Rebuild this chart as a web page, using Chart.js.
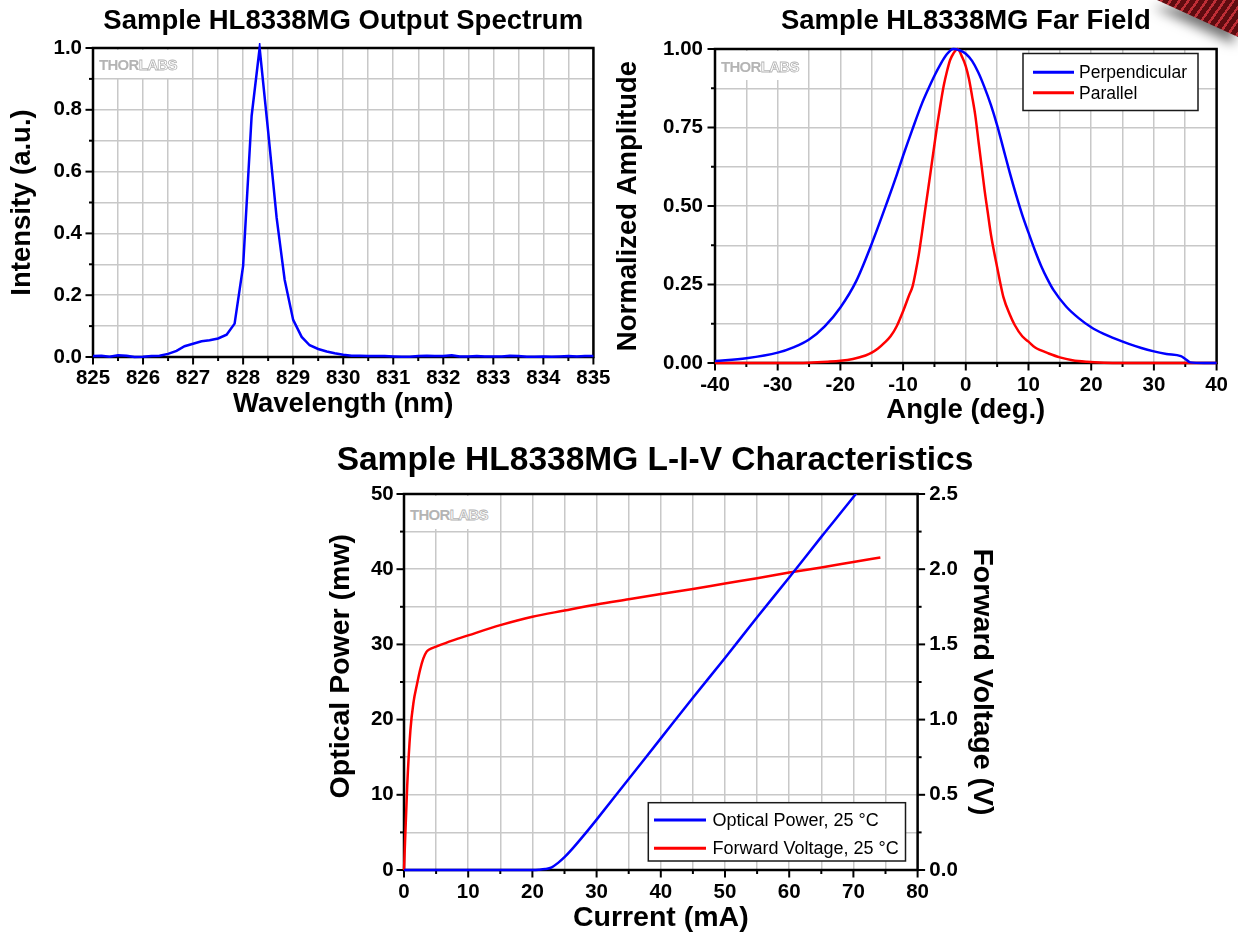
<!DOCTYPE html>
<html><head><meta charset="utf-8">
<script src="https://cdn.jsdelivr.net/npm/chart.js@4.4.1/dist/chart.umd.min.js"></script>
<style>
html,body{margin:0;padding:0;background:#fff;}
#page{position:relative;width:1238px;height:935px;overflow:hidden;background:#fff;}
canvas{position:absolute;}
.wm{position:absolute;background:#fff;font-family:'Liberation Sans',Arial,sans-serif;font-weight:bold;font-size:15px;line-height:15px;letter-spacing:-0.7px;white-space:nowrap;padding:0;}
.wm span{position:relative;}
.wm .t{color:#b4b4b4;}
.wm .l{color:#fff;-webkit-text-stroke:0.8px #b4b4b4;}
#corner{position:absolute;left:1100px;top:0;width:138px;height:90px;filter:drop-shadow(-4px 7px 6px rgba(0,0,0,0.55));}
#band{position:absolute;left:0;top:0;width:138px;height:90px;clip-path:polygon(57px 0,138px 0,138px 37px);
 background:repeating-linear-gradient(125deg,#5e0c10 0px,#5e0c10 5px,#bf2e36 5px,#bf2e36 7.4px);}
</style></head><body>
<div id="page">
<canvas id="c1" width="620" height="430" style="left:0;top:0;width:620px;height:430px"></canvas>
<canvas id="c2" width="638" height="430" style="left:600px;top:0;width:638px;height:430px"></canvas>
<canvas id="c3" width="688" height="505" style="left:311px;top:430px;width:688px;height:505px"></canvas>
<div class="wm" style="left:95px;top:50px;width:82px;height:28px;"><div style="position:absolute;left:4px;top:7px"><span class="t">THOR</span><span class="l">LABS</span></div></div>
<div class="wm" style="left:717px;top:51px;width:83px;height:29px;"><div style="position:absolute;left:4px;top:8px"><span class="t">THOR</span><span class="l">LABS</span></div></div>
<div class="wm" style="left:406px;top:496px;width:86px;height:33px;"><div style="position:absolute;left:4px;top:11px"><span class="t">THOR</span><span class="l">LABS</span></div></div>
<div id="corner"><div id="band"></div></div>
</div>
<script>
// ---------------- DATA ----------------
const specWavelength = [825.00,825.17,825.33,825.50,825.67,825.83,826.00,826.17,826.33,826.50,826.67,826.83,827.00,827.17,827.33,827.50,827.67,827.83,828.00,828.17,828.33,828.50,828.67,828.83,829.00,829.17,829.33,829.50,829.67,829.83,830.00,830.17,830.33,830.50,830.67,830.83,831.00,831.17,831.33,831.50,831.67,831.83,832.00,832.17,832.33,832.50,832.67,832.83,833.00,833.17,833.33,833.50,833.67,833.83,834.00,834.17,834.33,834.50,834.67,834.83,835.00];
const specIntensity = [0.003,0.004,0.001,0.006,0.004,0.000,0.001,0.003,0.004,0.010,0.020,0.035,0.043,0.051,0.054,0.060,0.072,0.108,0.295,0.780,1.000,0.730,0.450,0.250,0.120,0.065,0.038,0.026,0.018,0.012,0.007,0.004,0.004,0.003,0.003,0.003,0.002,0.001,0.001,0.003,0.004,0.003,0.003,0.006,0.002,0.002,0.003,0.002,0.002,0.002,0.004,0.003,0.001,0.001,0.002,0.001,0.002,0.003,0.002,0.003,0.003];

const ffPerpAngle = [-40,-35,-30,-27.5,-25,-22.5,-20,-17.5,-15,-12.5,-11,-10,-8.5,-7,-6,-5,-4,-3,-2,-1,0,1,2,3,4,5,6,7,8,9,10,11,12,13,14,16,18,20,22,24,26,28,30,32,34.3,35,35.8,38,40];
const ffPerpAmp = [0.006,0.015,0.033,0.05,0.075,0.117,0.177,0.26,0.38,0.515,0.6,0.66,0.745,0.826,0.872,0.915,0.953,0.984,1.0,0.996,0.985,0.962,0.925,0.877,0.822,0.757,0.682,0.607,0.537,0.472,0.415,0.36,0.31,0.268,0.232,0.18,0.143,0.114,0.093,0.076,0.061,0.048,0.037,0.029,0.022,0.013,0.002,0,0];
const ffParAngle = [-40,-30,-25,-22,-20,-18,-16,-15,-14,-13,-12,-11,-10,-9,-8.5,-8,-7.5,-7,-6.5,-6,-5.5,-5,-4.5,-4,-3.5,-3,-2.5,-2,-1.3,-0.6,0,0.5,1,1.5,2,2.5,3,3.5,4,4.5,5,5.5,6,7,7.8,9,10,11,12,13,15,17,19.3,22,25,40];
const ffParAmp = [0,0,0.001,0.004,0.007,0.013,0.024,0.033,0.046,0.064,0.085,0.118,0.165,0.218,0.243,0.29,0.345,0.413,0.485,0.554,0.625,0.696,0.765,0.828,0.885,0.929,0.965,0.985,1.0,0.975,0.945,0.905,0.85,0.79,0.71,0.63,0.55,0.48,0.41,0.355,0.305,0.255,0.21,0.155,0.121,0.085,0.068,0.05,0.04,0.032,0.018,0.009,0.004,0.001,0,0];

const livCurrentP = [0,20,21,22,23,24,25,26,28,30,35,40,45,50,55,60,65,70,72];
const livPower = [0,0,0.03,0.12,0.35,0.95,1.7,2.6,4.6,6.7,12.1,17.5,22.9,28.2,33.6,38.9,44.3,49.6,51.8];
const livCurrentV = [0,0.5,1,1.5,2,2.5,3,3.5,4,5,7.5,10,15,20,25,30,35,40,45,50,55,60,65,70,74.2];
const livVoltage = [0,0.56,0.93,1.12,1.23,1.33,1.405,1.45,1.468,1.485,1.525,1.56,1.628,1.684,1.725,1.765,1.80,1.835,1.868,1.905,1.94,1.978,2.012,2.048,2.078];

const titles = {
  spec: 'Sample HL8338MG Output Spectrum',
  ff: 'Sample HL8338MG Far Field',
  liv: 'Sample HL8338MG L-I-V Characteristics'
};
const seriesLabels = {
  spec: 'Spectrum',
  perp: 'Perpendicular', par: 'Parallel',
  power: 'Optical Power, 25 °C', volt: 'Forward Voltage, 25 °C'
};

// ---------------- HELPERS ----------------
const FONT = "'Liberation Sans', Arial, Helvetica, sans-serif";
Chart.defaults.font.family = FONT;
Chart.defaults.color = '#000';
Chart.defaults.animation = false;

const pts = (xs, ys) => xs.map((x, i) => ({x, y: ys[i]}));
const near = (v, m) => Math.abs(v / m - Math.round(v / m)) < 1e-9;

function scale(o) {
  return {
    type: 'linear', position: o.position, min: o.min, max: o.max,
    afterFit: s => { if (s.isHorizontal()) s.height = o.size; else s.width = o.size; },
    ticks: {
      stepSize: o.step, autoSkip: false, maxRotation: 0, minRotation: 0,
      padding: o.tickPad, color: '#000', font: {size: 20.5, weight: 'bold'},
      callback: v => near(v, o.major) ? o.fmt(v) : ''
    },
    grid: {display: o.grid !== false, color: '#c8c8c8', lineWidth: 1.5, drawTicks: false},
    border: {display: false},
    title: {display: true, text: o.title, color: '#000', font: {size: o.titleSize, weight: 'bold'}, padding: o.titlePad}
  };
}

const framePlugin = {
  id: 'frame',
  beforeDatasetsDraw(chart) {
    const {ctx, chartArea: ca} = chart;
    ctx.save();
    ctx.strokeStyle = '#000';
    Object.values(chart.scales).forEach(s => {
      s.ticks.forEach(t => {
        const major = t.label !== '' && t.label != null;
        const len = major ? 7.5 : 4;
        const p = s.getPixelForValue(t.value);
        ctx.lineWidth = 2;
        ctx.beginPath();
        if (s.position === 'bottom') { ctx.moveTo(p, ca.bottom); ctx.lineTo(p, ca.bottom + len); }
        else if (s.position === 'left') { ctx.moveTo(ca.left, p); ctx.lineTo(ca.left - len, p); }
        else if (s.position === 'right') { ctx.moveTo(ca.right, p); ctx.lineTo(ca.right + len, p); }
        ctx.stroke();
      });
    });
    ctx.lineWidth = 2.5;
    ctx.strokeRect(ca.left, ca.top, ca.right - ca.left, ca.bottom - ca.top);
    ctx.restore();
  }
};

const boxLegend = {
  id: 'boxLegend',
  afterDraw(chart, args, o) {
    if (!o || !o.show) return;
    const ctx = chart.ctx;
    ctx.save();
    ctx.fillStyle = '#fff';
    ctx.fillRect(o.x, o.y, o.w, o.h);
    ctx.strokeStyle = '#1a1a1a';
    ctx.lineWidth = 1.5;
    ctx.strokeRect(o.x, o.y, o.w, o.h);
    chart.data.datasets.forEach((ds, i) => {
      const ly = o.y + o.row0 + i * o.rowGap;
      ctx.strokeStyle = ds.borderColor;
      ctx.lineWidth = 3;
      ctx.beginPath();
      ctx.moveTo(o.x + o.l0, ly); ctx.lineTo(o.x + o.l1, ly);
      ctx.stroke();
      ctx.fillStyle = '#000';
      ctx.font = o.fontSize + 'px ' + FONT;
      ctx.textBaseline = 'middle';
      ctx.textAlign = 'left';
      ctx.fillText(ds.label, o.x + o.tx, ly + 1);
    });
    ctx.restore();
  }
};

const lineDs = (label, data, color, extra) => Object.assign({
  label, data, borderColor: color, backgroundColor: color, borderWidth: 2.5,
  pointRadius: 0, fill: false, tension: 0
}, extra || {});

// ---------------- CHART 1: spectrum ----------------
new Chart(document.getElementById('c1'), {
  type: 'line',
  data: {datasets: [lineDs(seriesLabels.spec, pts(specWavelength, specIntensity), 'rgb(0,0,255)', {clip: 5})]},
  options: {
    responsive: false, devicePixelRatio: 1,
    layout: {padding: {left: 0, right: 25, top: 0, bottom: 0}},
    plugins: {
      legend: {display: false}, tooltip: {enabled: false},
      title: {display: true, text: titles.spec, fullSize: false, color: '#000',
        font: {size: 27.5, weight: 'bold'}, padding: {top: 4.7, bottom: 10.3}}
    },
    scales: {
      x: scale({position: 'bottom', min: 825, max: 835, step: 0.5, major: 1, fmt: v => String(v),
        size: 73, tickPad: 9.5, title: 'Wavelength (nm)', titleSize: 27.5, titlePad: {top: 0, bottom: 9}}),
      y: scale({position: 'left', min: 0, max: 1, step: 0.1, major: 0.2, fmt: v => v.toFixed(1),
        size: 93, tickPad: 11, title: 'Intensity (a.u.)', titleSize: 27.5, titlePad: {top: 5.8, bottom: 0}})
    }
  },
  plugins: [framePlugin]
});

// ---------------- CHART 2: far field ----------------
new Chart(document.getElementById('c2'), {
  type: 'line',
  data: {datasets: [
    lineDs(seriesLabels.perp, pts(ffPerpAngle, ffPerpAmp), 'rgb(0,0,255)', {clip: 5, cubicInterpolationMode: 'monotone'}),
    lineDs(seriesLabels.par, pts(ffParAngle, ffParAmp), 'rgb(255,0,0)', {clip: 5, cubicInterpolationMode: 'monotone'})
  ]},
  options: {
    responsive: false, devicePixelRatio: 1,
    layout: {padding: {left: 0, right: 15, top: 0, bottom: 0}},
    plugins: {
      legend: {display: false}, tooltip: {enabled: false},
      title: {display: true, text: titles.ff, fullSize: false, color: '#000',
        font: {size: 27.5, weight: 'bold'}, padding: {top: 4.5, bottom: 11.5}},
      boxLegend: {show: true, x: 423, y: 53.5, w: 175, h: 57, row0: 18.8, rowGap: 20.4, l0: 10, l1: 51, tx: 56, fontSize: 17.5}
    },
    scales: {
      x: scale({position: 'bottom', min: -40, max: 40, step: 5, major: 10, fmt: v => String(v),
        size: 67, tickPad: 10, title: 'Angle (deg.)', titleSize: 27.5, titlePad: {top: 0, bottom: 3.5}}),
      y: scale({position: 'left', min: 0, max: 1, step: 0.125, major: 0.25, fmt: v => v.toFixed(2),
        size: 115, tickPad: 12, title: 'Normalized Amplitude', titleSize: 27.5, titlePad: {top: 11.5, bottom: 0}})
    }
  },
  plugins: [framePlugin, boxLegend]
});

// ---------------- CHART 3: L-I-V ----------------
new Chart(document.getElementById('c3'), {
  type: 'line',
  data: {datasets: [
    lineDs(seriesLabels.power, pts(livCurrentP, livPower), 'rgb(0,0,255)', {yAxisID: 'y', clip: {left: 5, right: 5, bottom: 5, top: 0}, cubicInterpolationMode: 'monotone'}),
    lineDs(seriesLabels.volt, pts(livCurrentV, livVoltage), 'rgb(255,0,0)', {yAxisID: 'y2', clip: 5, cubicInterpolationMode: 'monotone'})
  ]},
  options: {
    responsive: false, devicePixelRatio: 1,
    layout: {padding: {left: 0, right: 0, top: 0, bottom: 0}},
    plugins: {
      legend: {display: false}, tooltip: {enabled: false},
      title: {display: true, text: titles.liv, fullSize: true, color: '#000',
        font: {size: 33.5, weight: 'bold'}, padding: {top: 10.9, bottom: 12.9}},
      boxLegend: {show: true, x: 337.3, y: 372.7, w: 257.2, h: 58.3, row0: 17.3, rowGap: 28.3, l0: 5.7, l1: 57.7, tx: 64.2, fontSize: 18}
    },
    scales: {
      x: scale({position: 'bottom', min: 0, max: 80, step: 5, major: 10, fmt: v => String(v),
        size: 65, tickPad: 10.5, title: 'Current (mA)', titleSize: 28.5, titlePad: {top: 0, bottom: 0}}),
      y: scale({position: 'left', min: 0, max: 50, step: 5, major: 10, fmt: v => String(v),
        size: 93, tickPad: 10.3, title: '    Optical Power (mw)', titleSize: 28.5, titlePad: {top: 13.4, bottom: 0}}),
      y2: scale({position: 'right', min: 0, max: 2.5, step: 0.25, major: 0.5, fmt: v => v.toFixed(1), grid: false,
        size: 81.4, tickPad: 11.7, title: 'Forward Voltage (V)', titleSize: 28.5, titlePad: {top: 0, bottom: 0}})
    }
  },
  plugins: [framePlugin, boxLegend]
});
</script>
</body></html>
